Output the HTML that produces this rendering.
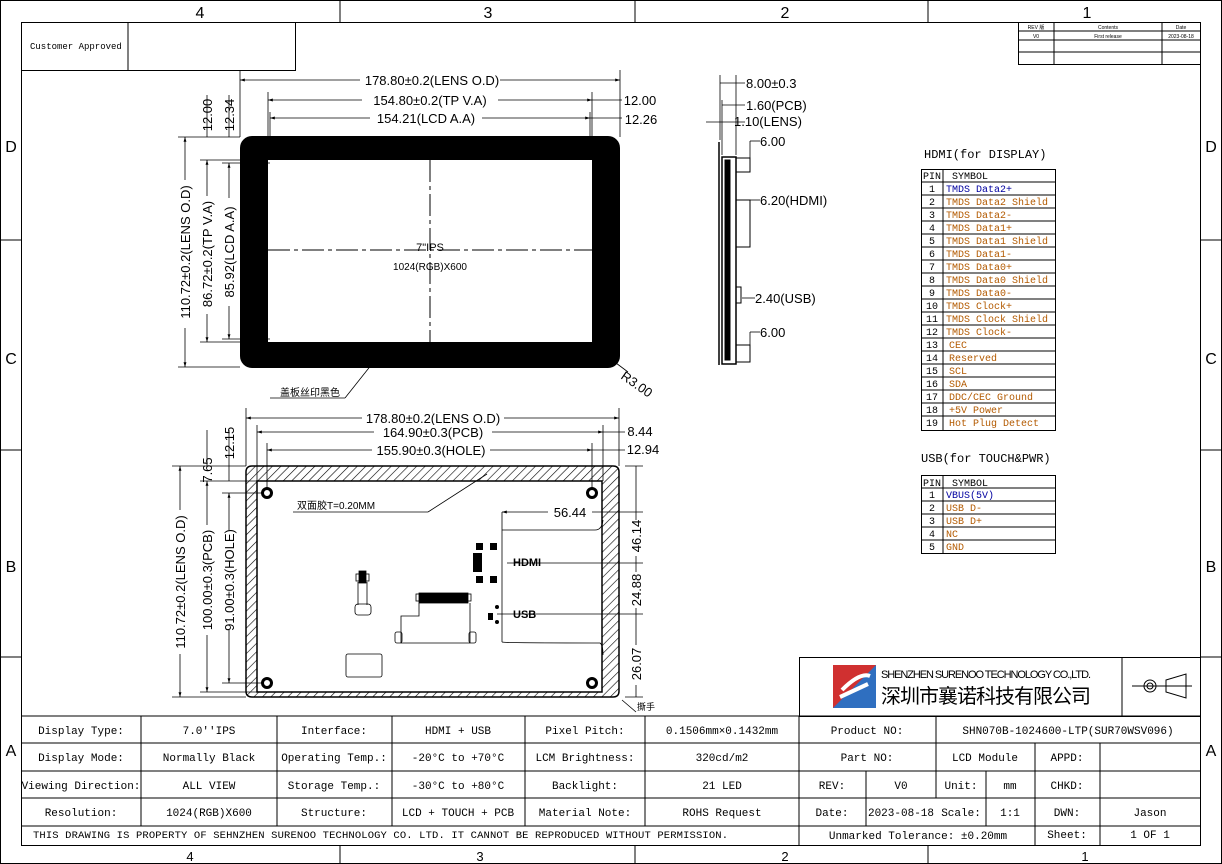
<!DOCTYPE html>
<html><head><meta charset="utf-8"><style>
html,body{margin:0;padding:0;background:#fff}
svg{display:block}
text{font-family:"Liberation Sans","Noto Sans CJK SC",sans-serif;fill:#000}
.m text, text.m{font-family:"Liberation Mono","Noto Sans CJK SC",monospace}
text.o{fill:#b35a00}text.b{fill:#0000a0}
</style></head><body>
<svg width="1222" height="864" viewBox="0 0 1222 864" xmlns="http://www.w3.org/2000/svg">
<defs>
<pattern id="h" width="6" height="6" patternUnits="userSpaceOnUse" patternTransform="rotate(45)"><line x1="0" y1="0" x2="0" y2="6" stroke="#000" stroke-width="1.2"/></pattern>
<marker id="a" viewBox="0 0 10 10" refX="10" refY="5" markerWidth="6" markerHeight="6" orient="auto-start-reverse"><path d="M0,2 L10,5 L0,8z" fill="#000"/></marker>
</defs>
<g fill="none" stroke="#000" stroke-width="1">
<rect x="0.5" y="0.5" width="1221" height="863"/>
<rect x="21.5" y="22.5" width="1179" height="823"/>
<line x1="340" y1="0" x2="340" y2="22"/><line x1="635" y1="0" x2="635" y2="22"/><line x1="928" y1="0" x2="928" y2="22"/>
<line x1="340" y1="845" x2="340" y2="864"/><line x1="635" y1="845" x2="635" y2="864"/><line x1="928" y1="845" x2="928" y2="864"/>
<line x1="0" y1="240" x2="21" y2="240"/><line x1="0" y1="450" x2="21" y2="450"/><line x1="0" y1="657" x2="21" y2="657"/>
<line x1="1201" y1="240" x2="1222" y2="240"/><line x1="1201" y1="450" x2="1222" y2="450"/><line x1="1201" y1="657" x2="1222" y2="657"/>
<rect x="21.5" y="22.5" width="274" height="48"/><line x1="128" y1="22" x2="128" y2="70"/>
<rect x="1018.5" y="22.5" width="182" height="42"/>
<line x1="1054" y1="22" x2="1054" y2="64"/><line x1="1162" y1="22" x2="1162" y2="64"/>
<line x1="1018" y1="31" x2="1200" y2="31"/><line x1="1018" y1="40" x2="1200" y2="40"/><line x1="1018" y1="52" x2="1200" y2="52"/>
</g>
<g font-size="16" text-anchor="middle">
<text x="200" y="18">4</text><text x="488" y="18">3</text><text x="785" y="18">2</text><text x="1087" y="18">1</text>
<text x="190" y="861" font-size="13">4</text><text x="480" y="861" font-size="13">3</text><text x="785" y="861" font-size="13">2</text><text x="1085" y="861" font-size="13">1</text>
<text x="11" y="152">D</text><text x="11" y="364">C</text><text x="11" y="572">B</text><text x="11" y="756">A</text>
<text x="1211" y="152">D</text><text x="1211" y="364">C</text><text x="1211" y="572">B</text><text x="1211" y="756">A</text>
</g>
<text x="30" y="49" font-size="9" class="m">Customer Approved</text>
<g font-size="5" text-anchor="middle"><text x="1036" y="29">REV 版</text><text x="1108" y="29">Contents</text><text x="1181" y="29">Date</text>
<text x="1036" y="38">V0</text><text x="1108" y="38">First release</text><text x="1181" y="38">2023-08-18</text></g>

<!-- front view -->
<rect x="244" y="140" width="372" height="224" rx="8" fill="none" stroke="#000" stroke-width="8"/>
<path d="M248,144 H612 V360 H248Z M268,160 V342 H592 V160Z" fill="#000" fill-rule="evenodd"/>
<g stroke="#000" stroke-dasharray="22,4,4,4" fill="none"><line x1="430" y1="160" x2="430" y2="342"/><line x1="268" y1="250" x2="592" y2="250"/></g>
<text x="430" y="251" font-size="11" text-anchor="middle">7"IPS</text>
<text x="430" y="270" font-size="10" text-anchor="middle">1024(RGB)X600</text>
<g stroke="#000" fill="none" stroke-width="0.8">
<line x1="240" y1="70" x2="240" y2="137"/><line x1="620" y1="70" x2="620" y2="137"/>
<line x1="268" y1="92" x2="268" y2="160"/><line x1="592" y1="92" x2="592" y2="160"/>
<line x1="270" y1="112" x2="270" y2="160"/><line x1="590" y1="112" x2="590" y2="160"/>
<line x1="240" y1="80" x2="620" y2="80" marker-start="url(#a)" marker-end="url(#a)"/>
<line x1="268" y1="100" x2="592" y2="100" marker-start="url(#a)" marker-end="url(#a)"/>
<line x1="270" y1="118" x2="590" y2="118" marker-start="url(#a)" marker-end="url(#a)"/>
<line x1="592" y1="100" x2="622" y2="100"/><line x1="590" y1="118" x2="622" y2="118"/>
<line x1="178" y1="137" x2="240" y2="137"/><line x1="178" y1="367" x2="240" y2="367"/>
<line x1="200" y1="160" x2="268" y2="160"/><line x1="200" y1="342" x2="268" y2="342"/>
<line x1="222" y1="163" x2="270" y2="163"/><line x1="222" y1="339" x2="270" y2="339"/>
<line x1="185" y1="137" x2="185" y2="367" marker-start="url(#a)" marker-end="url(#a)"/>
<line x1="207" y1="160" x2="207" y2="342" marker-start="url(#a)" marker-end="url(#a)"/>
<line x1="229" y1="163" x2="229" y2="339" marker-start="url(#a)" marker-end="url(#a)"/>
<line x1="207" y1="137" x2="207" y2="95"/><line x1="229" y1="137" x2="229" y2="95"/>
<line x1="270" y1="398" x2="345" y2="398"/><line x1="345" y1="398" x2="372" y2="364"/>
<line x1="612" y1="360" x2="628" y2="372"/>
</g>
<g font-size="13" text-anchor="middle">
<rect x="360" y="72" width="140" height="15" fill="#fff"/><text x="432" y="85">178.80±0.2(LENS O.D)</text>
<rect x="362" y="92" width="136" height="15" fill="#fff"/><text x="430" y="105">154.80±0.2(TP V.A)</text>
<rect x="370" y="110" width="112" height="15" fill="#fff"/><text x="426" y="123">154.21(LCD A.A)</text>
<text x="640" y="105">12.00</text><text x="641" y="124">12.26</text>
</g>
<g font-size="13" text-anchor="middle">
<rect x="177" y="180" width="16" height="148" fill="#fff"/><text transform="translate(190,252) rotate(-90)">110.72±0.2(LENS O.D)</text>
<rect x="199" y="196" width="16" height="118" fill="#fff"/><text transform="translate(212,254) rotate(-90)">86.72±0.2(TP V.A)</text>
<rect x="221" y="198" width="16" height="108" fill="#fff"/><text transform="translate(234,252) rotate(-90)">85.92(LCD A.A)</text>
<text transform="translate(212,115) rotate(-90)">12.00</text><text transform="translate(234,115) rotate(-90)">12.34</text>
</g>
<text x="280" y="396" font-size="10">盖板丝印黑色</text>
<text transform="translate(620,378) rotate(35)" font-size="13">R3.00</text>

<!-- side view -->
<g stroke="#000" fill="none">
<line x1="719" y1="142" x2="719" y2="365" stroke-width="1.5"/>
<rect x="722" y="157" width="14" height="207" stroke-width="1.5"/>
<rect x="725" y="160" width="5" height="200" fill="#000"/>
<rect x="736" y="158" width="14" height="14"/><rect x="736" y="200" width="14" height="47"/>
<rect x="736" y="287" width="5" height="16"/><rect x="736" y="345" width="14" height="17"/>
<g stroke-width="0.8">
<line x1="720" y1="75" x2="720" y2="140"/><line x1="736" y1="75" x2="736" y2="155"/><line x1="722" y1="100" x2="722" y2="155"/>
<line x1="720" y1="83" x2="745" y2="83"/><line x1="722" y1="105" x2="745" y2="105"/><line x1="706" y1="122" x2="745" y2="122"/>
<line x1="750" y1="141" x2="750" y2="172"/><line x1="750" y1="141" x2="760" y2="141"/>
<line x1="750" y1="200" x2="760" y2="200"/>
<line x1="742" y1="298" x2="755" y2="298"/><line x1="750" y1="332" x2="760" y2="332"/><line x1="750" y1="332" x2="750" y2="345"/>
</g></g>
<g font-size="13"><text x="746" y="88">8.00±0.3</text><text x="746" y="110">1.60(PCB)</text><text x="734" y="126">1.10(LENS)</text>
<text x="760" y="146">6.00</text><text x="760" y="205">6.20(HDMI)</text><text x="755" y="303">2.40(USB)</text><text x="760" y="337">6.00</text></g>

<!-- pin tables -->
<text x="924" y="158" font-size="12" class="m">HDMI(for DISPLAY)</text>
<g stroke="#000" fill="none" stroke-width="1"><rect x="921.5" y="169.5" width="134" height="261"/><line x1="943" y1="169" x2="943" y2="431"/>
<line x1="921" y1="182" x2="1055" y2="182"/>
<path d="M921 195H1055M921 208H1055M921 221H1055M921 234H1055M921 247H1055M921 260H1055M921 273H1055M921 286H1055M921 299H1055M921 312H1055M921 325H1055M921 338H1055M921 351H1055M921 364H1055M921 377H1055M921 390H1055M921 403H1055M921 416H1055"/></g>
<g font-size="10" class="m">
<text x="923" y="179">PIN</text><text x="952" y="179">SYMBOL</text>
<g text-anchor="middle"><text x="932" y="192">1</text><text x="932" y="205">2</text><text x="932" y="218">3</text><text x="932" y="231">4</text><text x="932" y="244">5</text><text x="932" y="257">6</text><text x="932" y="270">7</text><text x="932" y="283">8</text><text x="932" y="296">9</text><text x="932" y="309">10</text><text x="932" y="322">11</text><text x="932" y="335">12</text><text x="932" y="348">13</text><text x="932" y="361">14</text><text x="932" y="374">15</text><text x="932" y="387">16</text><text x="932" y="400">17</text><text x="932" y="413">18</text><text x="932" y="426">19</text></g>
<text x="946" y="192" class="b">TMDS Data2+</text><text x="946" y="205" class="o">TMDS Data2 Shield</text><text x="946" y="218" class="o">TMDS Data2-</text><text x="946" y="231" class="o">TMDS Data1+</text><text x="946" y="244" class="o">TMDS Data1 Shield</text><text x="946" y="257" class="o">TMDS Data1-</text><text x="946" y="270" class="o">TMDS Data0+</text><text x="946" y="283" class="o">TMDS Data0 Shield</text><text x="946" y="296" class="o">TMDS Data0-</text><text x="946" y="309" class="o">TMDS Clock+</text><text x="946" y="322" class="o">TMDS Clock Shield</text><text x="946" y="335" class="o">TMDS Clock-</text><text x="949" y="348" class="o">CEC</text><text x="949" y="361" class="o">Reserved</text><text x="949" y="374" class="o">SCL</text><text x="949" y="387" class="o">SDA</text><text x="949" y="400" class="o">DDC/CEC Ground</text><text x="949" y="413" class="o">+5V Power</text><text x="949" y="426" class="o">Hot Plug Detect</text>
</g>
<text x="921" y="462" font-size="12" class="m">USB(for TOUCH&amp;PWR)</text>
<g stroke="#000" fill="none"><rect x="921.5" y="475.5" width="134" height="78"/><line x1="943" y1="475" x2="943" y2="554"/>
<path d="M921 488H1055M921 501H1055M921 514H1055M921 527H1055M921 540H1055"/></g>
<g font-size="10" class="m"><text x="923" y="486">PIN</text><text x="952" y="486">SYMBOL</text>
<g text-anchor="middle"><text x="932" y="498">1</text><text x="932" y="511">2</text><text x="932" y="524">3</text><text x="932" y="537">4</text><text x="932" y="550">5</text></g>
<text x="946" y="498" class="b">VBUS(5V)</text><text x="946" y="511" class="o">USB D-</text><text x="946" y="524" class="o">USB D+</text><text x="946" y="537" class="o">NC</text><text x="946" y="550" class="o">GND</text></g>

<!-- back view -->
<path d="M252,466 H613 Q619,466 619,472 V691 Q619,697 613,697 H252 Q246,697 246,691 V472 Q246,466 252,466Z M257,481 V692 H602 V481Z" fill="url(#h)" fill-rule="evenodd" stroke="#000" stroke-width="1.5"/>
<g stroke="#000" fill="none" stroke-width="3"><circle cx="267" cy="493" r="4.5"/><circle cx="592" cy="493" r="4.5"/><circle cx="267" cy="683" r="4.5"/><circle cx="592" cy="683" r="4.5"/></g>
<g stroke="#000" fill="none" stroke-width="0.8">
<line x1="246" y1="408" x2="246" y2="466"/><line x1="619" y1="408" x2="619" y2="466"/><line x1="257" y1="425" x2="257" y2="481"/><line x1="603" y1="425" x2="603" y2="481"/>
<line x1="267" y1="443" x2="267" y2="488"/><line x1="592" y1="443" x2="592" y2="488"/>
<line x1="246" y1="418" x2="619" y2="418" marker-start="url(#a)" marker-end="url(#a)"/>
<line x1="257" y1="432" x2="603" y2="432" marker-start="url(#a)" marker-end="url(#a)"/>
<line x1="267" y1="450" x2="592" y2="450" marker-start="url(#a)" marker-end="url(#a)"/>
<line x1="603" y1="432" x2="625" y2="432"/><line x1="592" y1="450" x2="625" y2="450"/>
<line x1="172" y1="466" x2="246" y2="466"/><line x1="172" y1="697" x2="246" y2="697"/>
<line x1="200" y1="481" x2="257" y2="481"/><line x1="200" y1="692" x2="257" y2="692"/>
<line x1="222" y1="493" x2="262" y2="493"/><line x1="222" y1="683" x2="262" y2="683"/>
<line x1="180" y1="466" x2="180" y2="697" marker-start="url(#a)" marker-end="url(#a)"/>
<line x1="207" y1="481" x2="207" y2="692" marker-start="url(#a)" marker-end="url(#a)"/>
<line x1="229" y1="493" x2="229" y2="683" marker-start="url(#a)" marker-end="url(#a)"/>
<line x1="207" y1="430" x2="207" y2="466"/><line x1="229" y1="430" x2="229" y2="481"/>
<line x1="293" y1="512" x2="428" y2="512"/><line x1="428" y1="512" x2="487" y2="474"/>
<line x1="502" y1="512" x2="643" y2="512" marker-start="url(#a)"/>
<line x1="502" y1="512" x2="502" y2="642"/>
<path d="M502,530 H595 Q602,530 603,520 M502,642 Q504,643 600,643 Q603,645 603,655"/>
<line x1="507" y1="563" x2="643" y2="563"/><line x1="497" y1="614" x2="643" y2="614"/>
<line x1="625" y1="466" x2="643" y2="466"/><line x1="625" y1="697" x2="643" y2="697"/>
<line x1="636" y1="466" x2="636" y2="697"/>
<line x1="622" y1="700" x2="636" y2="712"/>
<rect x="356" y="574" width="13" height="7"/><rect x="359" y="571" width="7" height="12" fill="#000"/><line x1="358" y1="582" x2="358" y2="605"/><line x1="367" y1="582" x2="367" y2="605"/><rect x="355" y="604" width="16" height="11" rx="3"/>
<rect x="419" y="593" width="49" height="10" fill="#000"/><rect x="416" y="594" width="5" height="7"/><rect x="466" y="594" width="5" height="7"/>
<path d="M419,603 V616 H401 V643 H470 V603"/><rect x="395" y="632" width="7" height="11" rx="2"/><rect x="469" y="632" width="7" height="11" rx="2"/>
<rect x="346" y="654" width="36" height="23" rx="2"/>
<line x1="327" y1="692" x2="398" y2="692"/>
</g>
<g fill="#000"><rect x="476" y="543" width="7" height="7"/><rect x="490" y="543" width="7" height="7"/><rect x="473" y="553" width="9" height="19"/><rect x="476" y="576" width="7" height="7"/><rect x="490" y="576" width="7" height="7"/><rect x="488" y="613" width="5" height="7"/><circle cx="497" cy="607" r="2"/><circle cx="497" cy="622" r="2"/></g>
<g font-size="13" text-anchor="middle">
<rect x="362" y="410" width="142" height="15" fill="#fff"/><text x="433" y="423">178.80±0.2(LENS O.D)</text>
<rect x="374" y="425" width="118" height="15" fill="#fff"/><text x="433" y="437">164.90±0.3(PCB)</text>
<rect x="372" y="442" width="118" height="15" fill="#fff"/><text x="431" y="455">155.90±0.3(HOLE)</text>
<text x="640" y="436">8.44</text><text x="643" y="454">12.94</text>
<rect x="548" y="504" width="44" height="16" fill="#fff"/><text x="570" y="517">56.44</text>
<rect x="172" y="510" width="16" height="144" fill="#fff"/><text transform="translate(185,582) rotate(-90)">110.72±0.2(LENS O.D)</text>
<rect x="199" y="525" width="16" height="110" fill="#fff"/><text transform="translate(212,580) rotate(-90)">100.00±0.3(PCB)</text>
<rect x="221" y="530" width="16" height="100" fill="#fff"/><text transform="translate(234,580) rotate(-90)">91.00±0.3(HOLE)</text>
<text transform="translate(212,470) rotate(-90)">7.65</text><text transform="translate(234,443) rotate(-90)">12.15</text>
<rect x="628" y="520" width="16" height="36" fill="#fff"/><text transform="translate(641,536) rotate(-90)">46.14</text>
<rect x="628" y="572" width="16" height="36" fill="#fff"/><text transform="translate(641,590) rotate(-90)">24.88</text>
<rect x="628" y="645" width="16" height="40" fill="#fff"/><text transform="translate(641,664) rotate(-90)">26.07</text>
</g>
<text x="297" y="509" font-size="10">双面胶T=0.20MM</text>
<text x="513" y="566" font-size="11" font-weight="bold">HDMI</text><text x="513" y="618" font-size="11" font-weight="bold">USB</text>
<text x="637" y="710" font-size="9">撕手</text>

<!-- title block -->
<g stroke="#000" fill="none" stroke-width="1">
<rect x="799.5" y="657.5" width="401" height="59"/><line x1="1122" y1="657" x2="1122" y2="716"/>
<line x1="21" y1="716" x2="1201" y2="716"/><line x1="21" y1="743" x2="1201" y2="743"/><line x1="21" y1="771" x2="1201" y2="771"/><line x1="21" y1="798" x2="1201" y2="798"/><line x1="21" y1="826" x2="1201" y2="826"/>
<line x1="141" y1="716" x2="141" y2="826"/><line x1="277" y1="716" x2="277" y2="826"/><line x1="392" y1="716" x2="392" y2="826"/><line x1="525" y1="716" x2="525" y2="826"/><line x1="645" y1="716" x2="645" y2="826"/><line x1="799" y1="716" x2="799" y2="845"/>
<line x1="936" y1="716" x2="936" y2="798"/><line x1="1035" y1="743" x2="1035" y2="845"/><line x1="1100" y1="743" x2="1100" y2="845"/>
<line x1="866" y1="771" x2="866" y2="826"/><line x1="986" y1="771" x2="986" y2="826"/>
<line x1="1132" y1="686" x2="1166" y2="686"/><circle cx="1150" cy="686" r="6"/><circle cx="1150" cy="686" r="3"/><path d="M1166,686 H1192 M1166,680 L1186,674 V698 L1166,692Z"/>
</g>
<rect x="833" y="665" width="43" height="43" fill="#d03030"/><path d="M833,708 L876,665 V708Z" fill="#2f6fc0"/><path d="M842,690 Q860,672 870,676 M840,697 Q855,690 868,684" stroke="#fff" stroke-width="4" fill="none"/>
<text x="881" y="678" font-size="11" textLength="210">SHENZHEN SURENOO TECHNOLOGY CO.,LTD.</text>
<text x="881" y="703" font-size="20" textLength="210">深圳市襄诺科技有限公司</text>
<g font-size="11" class="m" text-anchor="middle">
<text x="81" y="734">Display Type:</text><text x="209" y="734">7.0''IPS</text><text x="334" y="734">Interface:</text><text x="458" y="734">HDMI + USB</text><text x="585" y="734">Pixel Pitch:</text><text x="722" y="734">0.1506mm×0.1432mm</text><text x="867" y="734">Product NO:</text><text x="1068" y="734">SHN070B-1024600-LTP(SUR70WSV096)</text>
<text x="81" y="761">Display Mode:</text><text x="209" y="761">Normally Black</text><text x="334" y="761">Operating Temp.:</text><text x="458" y="761">-20°C to +70°C</text><text x="585" y="761">LCM Brightness:</text><text x="722" y="761">320cd/m2</text><text x="867" y="761">Part NO:</text><text x="985" y="761">LCD Module</text><text x="1067" y="761">APPD:</text>
<text x="81" y="789">Viewing Direction:</text><text x="209" y="789">ALL VIEW</text><text x="334" y="789">Storage Temp.:</text><text x="458" y="789">-30°C to +80°C</text><text x="585" y="789">Backlight:</text><text x="722" y="789">21  LED</text><text x="832" y="789">REV:</text><text x="901" y="789">V0</text><text x="961" y="789">Unit:</text><text x="1010" y="789">mm</text><text x="1067" y="789">CHKD:</text>
<text x="81" y="816">Resolution:</text><text x="209" y="816">1024(RGB)X600</text><text x="334" y="816">Structure:</text><text x="458" y="816">LCD + TOUCH + PCB</text><text x="585" y="816">Material Note:</text><text x="722" y="816">ROHS Request</text><text x="832" y="816">Date:</text><text x="901" y="816">2023-08-18</text><text x="961" y="816">Scale:</text><text x="1010" y="816">1:1</text><text x="1067" y="816">DWN:</text><text x="1150" y="816">Jason</text>
<text x="918" y="839">Unmarked Tolerance:  ±0.20mm</text><text x="1067" y="838">Sheet:</text><text x="1150" y="838">1 OF 1</text>
</g>
<text x="33" y="838" font-size="10.5" class="m" textLength="695">THIS DRAWING IS PROPERTY OF SEHNZHEN SURENOO TECHNOLOGY CO. LTD. IT CANNOT BE REPRODUCED WITHOUT PERMISSION.</text>
</svg>
</body></html>
